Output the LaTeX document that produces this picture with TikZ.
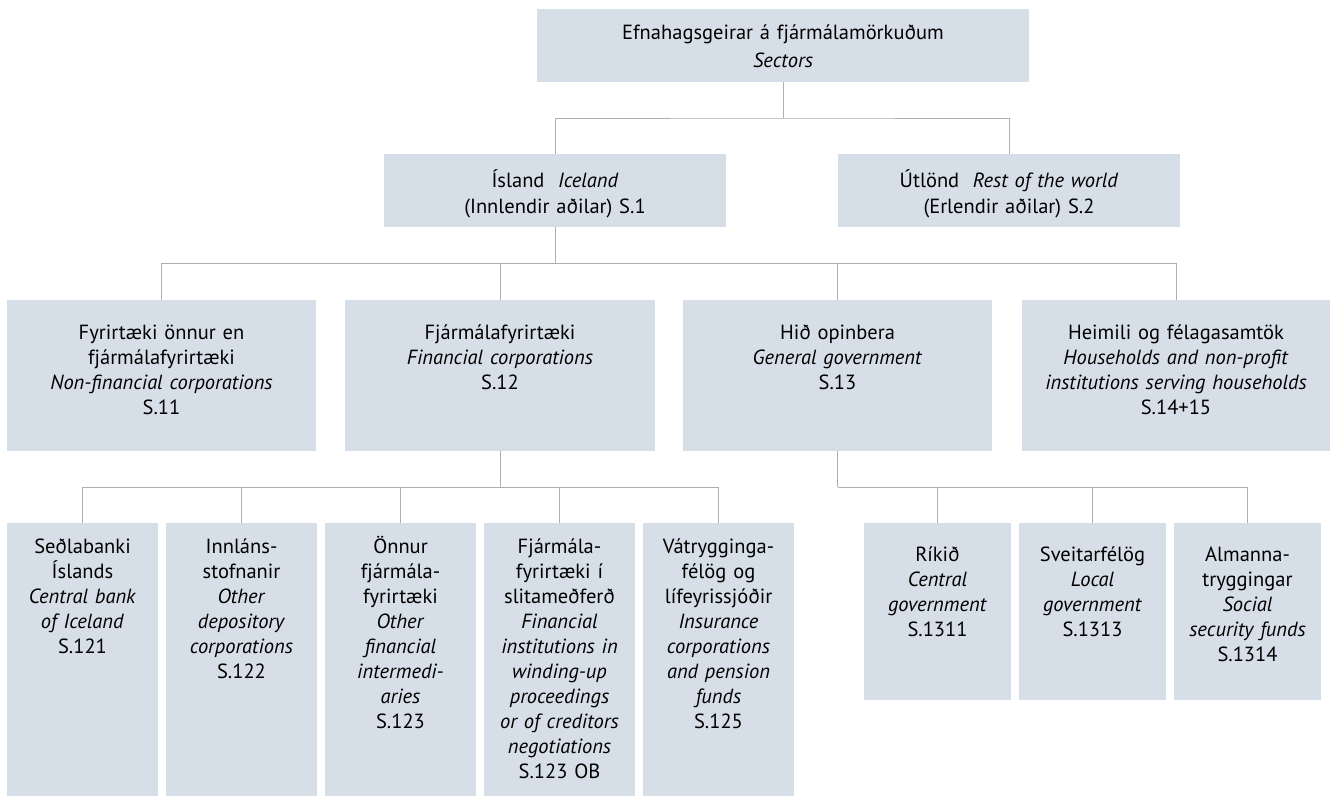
\documentclass[tikz,border=0pt]{standalone}
\usepackage{fontspec}
\setmainfont{PT Sans}
\definecolor{boxc}{RGB}{214,222,231}
\definecolor{linec}{RGB}{175,175,175}
\begin{document}
\begin{tikzpicture}[x=1pt,y=-1pt,
  box/.style={fill=boxc, draw=none, inner sep=0pt, outer sep=0pt, anchor=north west},
  txt/.style={anchor=base, align=center, inner sep=0pt, text width=#1,
    font=\fontsize{20.5}{25}\selectfont},
  conn/.style={draw=linec, line width=1pt}]
\useasboundingbox[fill=white] (0,0) rectangle (1333,796);

% level 0
\node[box, minimum width=492pt, minimum height=73pt] (top) at (537,9) {};
\node[txt=480pt, font=\fontsize{20.5}{28}\selectfont] (ttop) at (783,39) {Efnahagsgeirar á fjármálamörkuðum\\\textit{Sectors}};

% level 1
\node[box, minimum width=342pt, minimum height=73pt] (isl) at (384,154) {};
\node[txt=330pt, font=\fontsize{20.5}{26}\selectfont] (tisl) at (555,187) {Ísland\ \ \textit{Iceland}\\(Innlendir aðilar) S.1};
\node[box, minimum width=342pt, minimum height=73pt] (utl) at (838,154) {};
\node[txt=330pt, font=\fontsize{20.5}{26}\selectfont] (tutl) at (1009,187) {Útlönd\ \ \textit{Rest of the world}\\(Erlendir aðilar) S.2};

% level 2
\node[box, minimum width=309pt, minimum height=151pt] (s11) at (7,300) {};
\node[txt=300pt] (ts11) at (161.5,339) {Fyrirtæki önnur en\\fjármálafyrirtæki\\\textit{Non-financial corporations}\\S.11};
\node[box, minimum width=310pt, minimum height=151pt] (s12) at (345,300) {};
\node[txt=300pt] (ts12) at (500,339) {Fjármálafyrirtæki\\\textit{Financial corporations}\\S.12};
\node[box, minimum width=309pt, minimum height=151pt] (s13) at (683,300) {};
\node[txt=300pt] (ts13) at (837.5,339) {Hið opinbera\\\textit{General government}\\S.13};
\node[box, minimum width=308pt, minimum height=151pt] (s14) at (1022,300) {};
\node[txt=300pt] (ts14) at (1176,339) {Heimili og félagasamtök\\\textit{Households and non-profit}\\\textit{institutions serving households}\\S.14+15};

% level 3 (financial)
\node[box, minimum width=151pt, minimum height=273pt] (s121) at (7,523) {};
\node[txt=150pt] (ts121) at (82.5,553) {Seðlabanki\\Íslands\\\textit{Central bank}\\\textit{of Iceland}\\S.121};
\node[box, minimum width=151pt, minimum height=273pt] (s122) at (166,523) {};
\node[txt=150pt] (ts122) at (241.5,553) {Innláns-\\stofnanir\\\textit{Other}\\\textit{depository}\\\textit{corporations}\\S.122};
\node[box, minimum width=151pt, minimum height=273pt] (s123) at (325,523) {};
\node[txt=150pt] (ts123) at (400.5,553) {Önnur\\fjármála-\\fyrirtæki\\\textit{Other}\\\textit{financial}\\\textit{intermedi-}\\\textit{aries}\\S.123};
\node[box, minimum width=151pt, minimum height=273pt] (s123ob) at (484,523) {};
\node[txt=150pt] (ts123ob) at (559.5,553) {Fjármála-\\fyrirtæki í\\slitameðferð\\\textit{Financial}\\\textit{institutions in}\\\textit{winding-up}\\\textit{proceedings}\\\textit{or of creditors}\\\textit{negotiations}\\S.123 OB};
\node[box, minimum width=151pt, minimum height=273pt] (s125) at (643,523) {};
\node[txt=150pt] (ts125) at (718.5,553) {Vátrygginga-\\félög og\\lífeyrissjóðir\\\textit{Insurance}\\\textit{corporations}\\\textit{and pension}\\\textit{funds}\\S.125};

% level 3 (government)
\node[box, minimum width=147pt, minimum height=177pt] (s1311) at (864,523) {};
\node[txt=146pt] (ts1311) at (937.5,561) {Ríkið\\\textit{Central}\\\textit{government}\\S.1311};
\node[box, minimum width=147pt, minimum height=177pt] (s1313) at (1019,523) {};
\node[txt=146pt] (ts1313) at (1092.5,561) {Sveitarfélög\\\textit{Local}\\\textit{government}\\S.1313};
\node[box, minimum width=147pt, minimum height=177pt] (s1314) at (1174,523) {};
\node[txt=146pt] (ts1314) at (1247.5,561) {Almanna-\\tryggingar\\\textit{Social}\\\textit{security funds}\\S.1314};

% connectors
\coordinate (j1) at (783,118);
\draw[conn] (top.south) -- (j1);
\draw[conn] (isl.north) |- (j1) -| (utl.north);

\coordinate (j2) at (555,263);
\draw[conn] (isl.south) -- (j2);
\foreach \n in {s11,s12,s13,s14} \draw[conn] (\n.north) |- (j2);

\coordinate (j3) at (500,487);
\draw[conn] (s12.south) -- (j3);
\foreach \n in {s121,s122,s123,s123ob,s125} \draw[conn] (\n.north) |- (j3);

\coordinate (j4) at (837.5,487);
\draw[conn] (s13.south) -- (j4);
\foreach \n in {s1311,s1313,s1314} \draw[conn] (\n.north) |- (j4);
\end{tikzpicture}
\end{document}
